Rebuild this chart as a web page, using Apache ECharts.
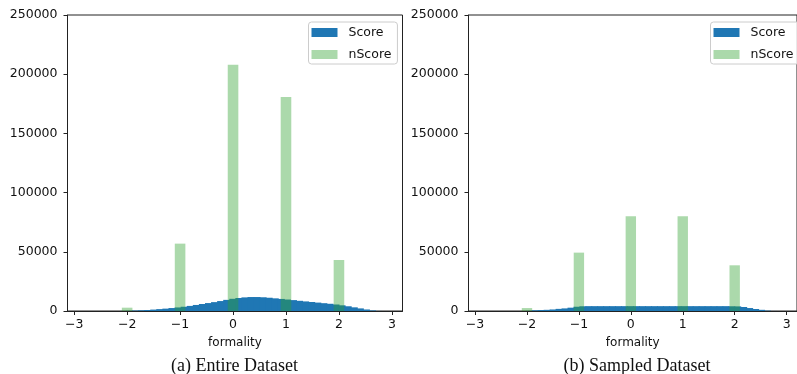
<!DOCTYPE html>
<html>
<head>
<meta charset="utf-8">
<script src="https://cdn.jsdelivr.net/npm/echarts@6/dist/echarts.min.js"></script>
<style>
  html, body { margin: 0; padding: 0; background: #fff; }
  #chart { width: 797px; height: 374px; }
</style>
</head>
<body>
<div id="chart"></div>
<script>
// histogram bins shared by the Score histograms (50 bins)
const binStart = -2.826
const binWidth = 0.1148

// Score counts per bin, entire dataset
const scoreEntire = [
  0, 0, 0, 0, 0, 10, 50, 150, 400, 600,
  850, 1200, 1600, 2000, 2500, 3000, 3600, 4300, 5100, 5900,
  6700, 7500, 8400, 9400, 10300, 11000, 11500, 11800, 11800, 11600,
  11200, 10700, 10200, 9700, 9200, 8600, 8100, 7600, 7100, 6600,
  6100, 5500, 4800, 4000, 3100, 2200, 1300, 500, 50, 5
]
// Score counts per bin, sampled dataset
const scoreSampled = [
  0, 0, 0, 0, 0, 0, 20, 100, 600, 800,
  1000, 1300, 1800, 2200, 2800, 3600, 4000, 4100, 4100, 4100,
  4100, 4100, 4100, 4100, 4100, 4100, 4100, 4100, 4100, 4100,
  4100, 4100, 4100, 4100, 4100, 4100, 4100, 4100, 4100, 4100,
  4100, 4000, 3900, 3400, 2500, 1700, 1000, 300, 30, 0
]

// nScore: integer levels, bar of width 0.2 around each
const nScoreLevels = [-2, -1, 0, 1, 2]
const nScoreHalfWidth = 0.1
const nScoreEntire = [2800, 56900, 207900, 180800, 43100]
const nScoreSampled = [2500, 49300, 80000, 80000, 38600]

const xTicks = [-3, -2, -1, 0, 1, 2, 3]
const captions = ['(a) Entire Dataset', '(b) Sampled Dataset']

const BLUE = '#1f77b4'
const GREEN = 'rgba(44,160,44,0.4)'
const TEXT = '#111'

function scoreRows(counts) {
  return counts.map((c, k) => [binStart + k * binWidth, binStart + (k + 1) * binWidth, c])
}
function nScoreRows(counts) {
  return counts.map((c, i) => [nScoreLevels[i] - nScoreHalfWidth, nScoreLevels[i] + nScoreHalfWidth, c])
}

// overlap: extra px so adjacent bins of one colour show no seams
function barRenderer(overlap) {
  return function (params, api) {
    const p0 = api.coord([api.value(0), api.value(2)])
    const p1 = api.coord([api.value(1), 0])
    return {
      type: 'rect',
      shape: { x: p0[0], y: p0[1], width: p1[0] - p0[0] + overlap, height: p1[1] - p0[1] },
      style: api.style()
    }
  }
}

const grids = [
  { left: 67.5, top: 15, width: 335, height: 296 },
  { left: 468.5, top: 15, width: 336, height: 296 }
]

function makeX(i) {
  return {
    type: 'value',
    gridIndex: i,
    min: -3.126,
    max: 3.2,
    name: 'formality',
    nameLocation: 'middle',
    nameGap: 26,
    nameTextStyle: { fontFamily: 'DejaVu Sans', fontSize: 12, color: TEXT },
    axisLine: { show: true, onZero: false, lineStyle: { color: '#222', width: 1 } },
    axisTick: { show: true, length: 4, customValues: xTicks, lineStyle: { color: '#222' } },
    axisLabel: {
      customValues: xTicks,
      margin: 7,
      fontFamily: 'DejaVu Sans',
      fontSize: 12.5,
      color: TEXT,
      formatter: v => (v < 0 ? '\u2212' + Math.abs(v) : String(v))
    },
    splitLine: { show: false }
  }
}

function makeY(i) {
  return {
    type: 'value',
    gridIndex: i,
    min: 0,
    max: 250000,
    interval: 50000,
    axisLine: { show: true, onZero: false, lineStyle: { color: '#222', width: 1 } },
    axisTick: { show: true, length: 4, lineStyle: { color: '#222' } },
    axisLabel: {
      margin: 10,
      fontFamily: 'DejaVu Sans',
      fontSize: 12.5,
      color: TEXT,
      formatter: v => String(v)
    },
    splitLine: { show: false }
  }
}

function makeLegend(left) {
  return {
    orient: 'vertical',
    left: left,
    top: 22,
    icon: 'rect',
    itemWidth: 26,
    itemHeight: 9,
    itemGap: 9,
    padding: [4, 6, 3, 3],
    borderColor: '#ccc',
    borderWidth: 1,
    borderRadius: 3,
    backgroundColor: 'rgba(255,255,255,0.8)',
    selectedMode: false,
    textStyle: { fontFamily: 'DejaVu Sans', fontSize: 12.5, color: TEXT, padding: [0, 0, 0, 6] },
    data: ['Score', 'nScore']
  }
}

const chart = echarts.init(document.getElementById('chart'), null, { renderer: 'canvas' })

const series = []
;[[scoreEntire, nScoreEntire], [scoreSampled, nScoreSampled]].forEach((pair, i) => {
  series.push({
    name: 'Score',
    type: 'custom',
    xAxisIndex: i,
    yAxisIndex: i,
    renderItem: barRenderer(0.8),
    encode: { x: [0, 1], y: 2 },
    itemStyle: { color: BLUE },
    data: scoreRows(pair[0])
  })
  series.push({
    name: 'nScore',
    type: 'custom',
    xAxisIndex: i,
    yAxisIndex: i,
    renderItem: barRenderer(0),
    encode: { x: [0, 1], y: 2 },
    itemStyle: { color: GREEN },
    data: nScoreRows(pair[1])
  })
})

chart.setOption({
  animation: false,
  grid: grids.map(g => Object.assign({ show: true, borderColor: '#222', borderWidth: 1, backgroundColor: 'transparent' }, g)),
  xAxis: [makeX(0), makeX(1)],
  yAxis: [makeY(0), makeY(1)],
  legend: [makeLegend(308.5), makeLegend(710.5)],
  graphic: [
    { type: 'text', x: 234.5, y: 366, style: { text: captions[0], font: '18px "Liberation Serif"', fill: TEXT, align: 'center', verticalAlign: 'middle' } },
    { type: 'text', x: 637, y: 366, style: { text: captions[1], font: '18px "Liberation Serif"', fill: TEXT, align: 'center', verticalAlign: 'middle' } }
  ],
  series: series
})
</script>
</body>
</html>
